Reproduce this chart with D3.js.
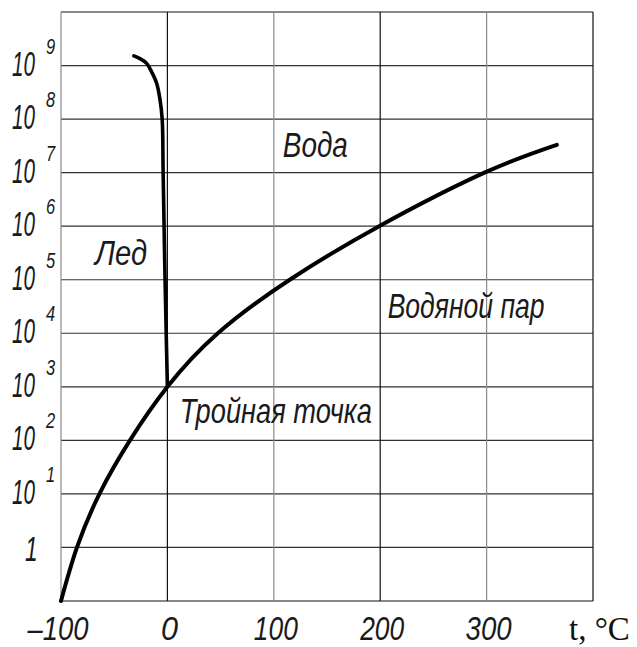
<!DOCTYPE html>
<html><head><meta charset="utf-8">
<script src="https://cdn.jsdelivr.net/npm/d3@7"></script>
<style>
html,body{margin:0;padding:0;background:#fff;}
svg{display:block;}
.lbl{font-family:"Liberation Sans","Arimo",sans-serif;font-style:italic;fill:#1a1a1a;}
</style></head>
<body><svg id="c" width="637" height="647"></svg>
<script>
// temperature ticks (°C)
const xTicks = [-100, 0, 100, 200, 300];
const xTickWidth = [61, 17, 44, 44, 46];
const xGrid = [-100, 0, 100, 200, 300, 400];
const xGridDark = [0, 200, 400];
// pressure gridlines (decimal exponents), labelled ones
const yGridExp = [-1, 0, 1, 2, 3, 4, 5, 6, 7, 8, 9, 10];
const yLabelExp = [0, 1, 2, 3, 4, 5, 6, 7, 8, 9];
// vaporisation / sublimation curve: temperature and log10 pressure
const vaporT   = [-100, -85, -63.4, -35.2, 0, 47.4, 115, 199, 298, 366];
const vaporLog = [-1, 0, 1.02, 2.0, 3, 4, 5, 6, 7, 7.52];
// melting curve (ice / water)
const iceT   = [0, -2.2, -4, -4.9, -7.0, -10.1, -14.8, -19.5, -25.8, -31.5];
const iceLog = [3, 5, 7, 8.0, 8.37, 8.67, 8.88, 9.04, 9.13, 9.18];
// region labels
const regionText  = ["Вода", "Лед", "Водяной пар", "Тройная точка"];
const regionT     = [108.5, -68, 207, 11.7];
const regionLog   = [7.29, 5.27, 4.28, 2.32];
const regionWidth = [65, 52, 157, 192];
const axisUnit = "t, °C";

const svg = d3.select("#c");
const W = 637, H = 647;
svg.append("rect").attr("width", W).attr("height", H).attr("fill", "#fff");

const x = d3.scaleLinear().domain([-100, 400]).range([61, 593]);
const y = d3.scaleLinear().domain([-1, 10]).range([601, 12]);

// grid
svg.append("g").selectAll("line").data(yGridExp).join("line")
  .attr("x1", x(-100)).attr("x2", x(400))
  .attr("y1", d => y(d)).attr("y2", d => y(d))
  .attr("stroke", d => (d === 10 || d === -1) ? "#111" : "#333").attr("stroke-width", 1.2);
svg.append("g").selectAll("line").data(xGrid).join("line")
  .attr("x1", d => x(d)).attr("x2", d => x(d))
  .attr("y1", y(-1)).attr("y2", y(10))
  .attr("stroke", d => xGridDark.includes(d) ? "#111" : "#8a8a8a").attr("stroke-width", 1.2);

// curves
const vapLine = d3.line().x(d => x(d[0])).y(d => y(d[1])).curve(d3.curveNatural);
svg.append("path").attr("d", vapLine(d3.zip(vaporT, vaporLog)))
  .attr("fill", "none").attr("stroke", "#000").attr("stroke-width", 4).attr("stroke-linecap", "round");
const iceLine = d3.line().x(d => x(d[0])).y(d => y(d[1])).curve(d3.curveCatmullRom.alpha(0.5));
svg.append("path").attr("d", iceLine(d3.zip(iceT, iceLog)))
  .attr("fill", "none").attr("stroke", "#000").attr("stroke-width", 3.6).attr("stroke-linecap", "round");

// y labels (compressed horizontally like the drafting font)
const yl = svg.append("g");
yLabelExp.forEach(e => {
  if (e === 0) {
    yl.append("text").attr("class", "lbl")
      .attr("transform", `translate(25,${y(e) + 14}) scale(0.65,1)`)
      .attr("font-size", 35).text("1");
  } else {
    yl.append("text").attr("class", "lbl")
      .attr("transform", `translate(12,${y(e) + 10}) scale(0.59,1)`)
      .attr("font-size", 35).text("10");
    yl.append("text").attr("class", "lbl")
      .attr("transform", `translate(46,${y(e) - 12}) scale(0.75,1)`)
      .attr("font-size", 22).text(String(e));
  }
});

// x labels
svg.append("g").selectAll("text").data(xTicks).join("text")
  .attr("class", "lbl").attr("x", (d, i) => x(d) + (d === -100 ? -3 : 2) - xTickWidth[i] / 2).attr("y", 640)
  .attr("font-size", 33).attr("textLength", (d, i) => xTickWidth[i]).attr("lengthAdjust", "spacingAndGlyphs")
  .text(d => d < 0 ? "\u2013" + Math.abs(d) : String(d));
svg.append("text").attr("x", 569).attr("y", 640)
  .attr("font-family", "'Liberation Serif','Times New Roman',serif").attr("font-size", 33)
  .attr("fill", "#111").text(axisUnit);

// region labels
svg.append("g").selectAll("text").data(regionText).join("text")
  .attr("class", "lbl").attr("font-size", 35)
  .attr("x", (d, i) => x(regionT[i])).attr("y", (d, i) => y(regionLog[i]))
  .attr("textLength", (d, i) => regionWidth[i]).attr("lengthAdjust", "spacingAndGlyphs")
  .text(d => d);
</script></body></html>
